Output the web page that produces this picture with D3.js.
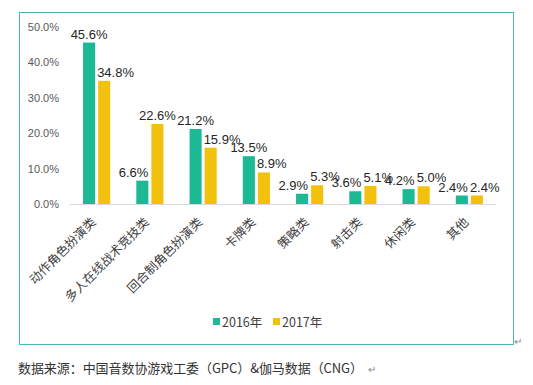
<!DOCTYPE html>
<html>
<head>
<meta charset="utf-8">
<script src="https://cdn.jsdelivr.net/npm/d3@7"></script>
<style>
  body { margin: 0; background: #fff; }
  svg { font-family: "Noto Sans CJK SC", "Microsoft YaHei", sans-serif; }
</style>
</head>
<body>
<svg id="chart" width="533" height="385"></svg>
<script>
// game categories and share values (%)
var categories = ["动作角色扮演类", "多人在线战术竞技类", "回合制角色扮演类", "卡牌类",
                  "策略类", "射击类", "休闲类", "其他"];
var values2016 = [45.6, 6.6, 21.2, 13.5, 2.9, 3.6, 4.2, 2.4];
var values2017 = [34.8, 22.6, 15.9, 8.9, 5.3, 5.1, 5.0, 2.4];
var seriesNames = ["2016年", "2017年"];
var yTicks = [0, 10, 20, 30, 40, 50];

var colors = ["#1db894", "#f2c10e"];

var svg = d3.select("#chart");

// outer frame
svg.append("rect")
  .attr("x", 19.5).attr("y", 12.5)
  .attr("width", 494).attr("height", 332)
  .attr("fill", "none").attr("stroke", "#4cb8b0").attr("stroke-width", 1);

var x = d3.scaleBand().domain(categories).range([70, 496]).paddingInner(0.49).paddingOuter(0.245);
var y = d3.scaleLinear().domain([0, 50]).range([204, 27]);
var xSub = d3.scaleBand().domain([0, 1]).range([0, x.bandwidth()]).paddingInner(0.2);

// y axis labels
var yAxis = d3.axisLeft(y).tickValues(yTicks).tickSize(0).tickPadding(11)
  .tickFormat(d => d.toFixed(1) + "%");
var yg = svg.append("g").attr("transform", "translate(70,0)").call(yAxis);
yg.select(".domain").remove();
yg.selectAll("text").attr("font-size", 11).attr("fill", "#595959")
  .attr("font-family", "Liberation Sans, Arial, sans-serif");

// baseline
svg.append("line")
  .attr("x1", 70).attr("x2", 496)
  .attr("y1", y(0) + 0.5).attr("y2", y(0) + 0.5)
  .attr("stroke", "#d9d9d9");

var series = [values2016, values2017];
var labels = [];
series.forEach(function(vals, s) {
  svg.append("g").selectAll("rect")
    .data(vals)
    .join("rect")
    .attr("x", (d, i) => x(categories[i]) + xSub(s))
    .attr("y", d => y(d))
    .attr("width", xSub.bandwidth())
    .attr("height", d => y(0) - y(d))
    .attr("fill", colors[s]);

  labels[s] = svg.append("g").selectAll("text")
    .data(vals)
    .join("text")
    .attr("x", (d, i) => x(categories[i]) + xSub(s) + xSub.bandwidth() / 2)
    .attr("y", d => y(d) - 4)
    .attr("text-anchor", "middle")
    .attr("font-size", 13)
    .attr("fill", "#262626")
    .attr("font-family", "Liberation Sans, Arial, sans-serif")
    .text(d => d.toFixed(1) + "%");
});

// push the data labels aside when they run into the neighbour bar or label (like excel does)
var bw = xSub.bandwidth();
categories.forEach(function(c, i) {
  var boxes = [0, 1].map(function(s) {
    var node = labels[s].nodes()[i];
    var w = node.getComputedTextLength();
    var cx = x(c) + xSub(s) + bw / 2;
    var base = y(series[s][i]) - 4;
    return {x0: cx - w / 2, x1: cx + w / 2, y0: base - 10, y1: base};
  });
  var overlapLabels = boxes[0].x1 > boxes[1].x0 &&
    boxes[0].y1 > boxes[1].y0 && boxes[1].y1 > boxes[0].y0;
  var greenHitsBar = boxes[0].x1 > x(c) + xSub(1) && boxes[0].y1 > y(series[1][i]);
  var yellowHitsBar = boxes[1].x0 < x(c) + bw && boxes[1].y1 > y(series[0][i]);
  if (overlapLabels || greenHitsBar) {
    d3.select(labels[0].nodes()[i]).attr("text-anchor", "end").attr("x", x(c) + xSub(0) + bw);
  }
  if (overlapLabels || yellowHitsBar) {
    d3.select(labels[1].nodes()[i]).attr("text-anchor", "start").attr("x", x(c) + xSub(1) - 1);
  }
});

// category labels, rotated
svg.append("g").selectAll("text")
  .data(categories)
  .join("text")
  .attr("transform", d => "translate(" + (x(d) + x.bandwidth() / 2) + "," + 223 + ") rotate(-45)")
  .attr("text-anchor", "end")
  .attr("font-size", 12.5)
  .attr("fill", "#404040")
  .text(d => d);

// legend
var legendX = [213, 273];
seriesNames.forEach(function(name, s) {
  svg.append("rect")
    .attr("x", legendX[s]).attr("y", 318)
    .attr("width", 7).attr("height", 7)
    .attr("fill", colors[s]);
  svg.append("text")
    .attr("x", legendX[s] + 9).attr("y", 327)
    .attr("font-size", 12.5)
    .attr("fill", "#404040")
    .text(name);
});

// return marks and source note
svg.append("text").attr("x", 514).attr("y", 345).attr("font-size", 10).attr("fill", "#888").text("↵");
svg.append("text")
  .attr("x", 18).attr("y", 373)
  .attr("font-size", 13)
  .attr("fill", "#333")
  .attr("textLength", 345)
  .attr("lengthAdjust", "spacing")
  .text("数据来源：中国音数协游戏工委（GPC）&伽马数据（CNG）");
svg.append("text").attr("x", 368).attr("y", 373).attr("font-size", 10).attr("fill", "#888").text("↵");
</script>
</body>
</html>
